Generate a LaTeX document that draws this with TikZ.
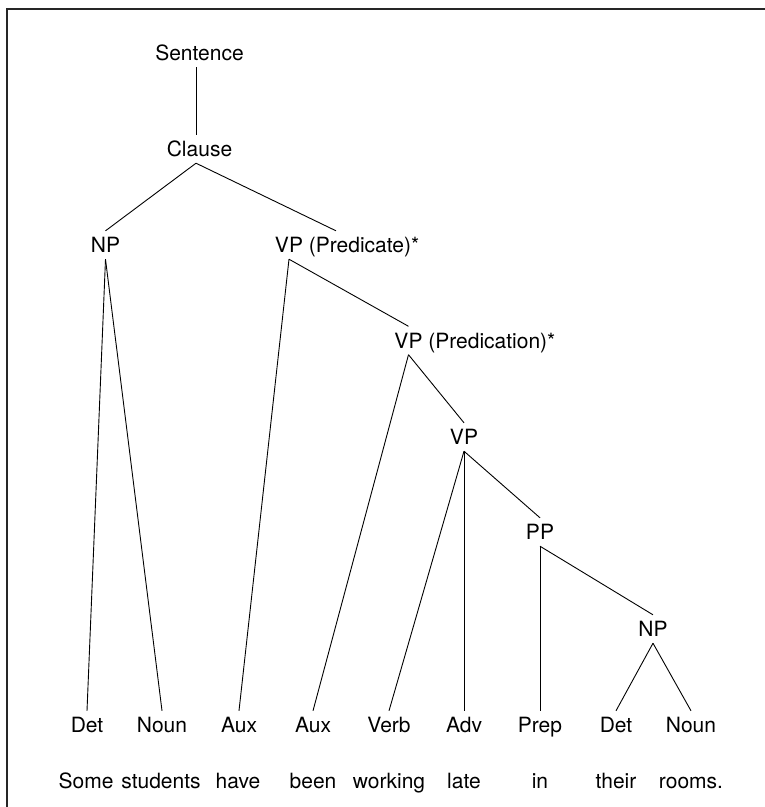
\documentclass[tikz,border=0pt]{standalone}
\usepackage{fontspec}
\setmainfont{TeX Gyre Heros}
\begin{document}
\begin{tikzpicture}[x=1pt,y=-1pt,
  lab/.style={font=\fontsize{21}{25}\selectfont, text height=15pt, text depth=0pt, inner xsep=0pt, inner ysep=6.5pt},
  edge/.style={line width=0.9pt, black},
  frame/.style={line width=1.6pt, black!85}]
\useasboundingbox (0,0) rectangle (765,807);
\coordinate (fbl) at (7,807);
\coordinate (ftl) at (7,9);
\coordinate (ftr) at (765,9);
\draw[frame] (fbl) -- (ftl) -- (ftr);

% internal nodes
\node[lab] (s)   at (199.5,53)  {Sentence};
\node[lab] (c)   at (199.5,149) {Clause};
\node[lab] (np1) at (105.5,245) {NP};
\node[lab] (vp1) at (289,245)   {VP\rlap{\ (Predicate)*}};
\node[lab] (vp2) at (408.5,340.5) {VP\rlap{\ (Predication)*}};
\node[lab] (vp3) at (464,437)   {VP};
\node[lab] (pp)  at (540,532)   {PP};
\node[lab] (np2) at (653,629)   {NP};

% leaves (categories)
\node[lab] (det1)  at (87,725)  {Det};
\node[lab] (noun1) at (162,725) {Noun};
\node[lab] (aux1)  at (239,725) {Aux};
\node[lab] (aux2)  at (313,725) {Aux};
\node[lab] (verb)  at (389,725) {Verb};
\node[lab] (adv)   at (464,725) {Adv};
\node[lab] (prep)  at (540,725) {Prep};
\node[lab] (det2)  at (616,725) {Det};
\node[lab] (noun2) at (691,725) {Noun};

% words
\node[lab] (w1) at (86,780.5)  {Some};
\node[lab] (w2) at (161,780.5) {students};
\node[lab] (w3) at (238,780.5) {have};
\node[lab] (w4) at (313,780.5) {been};
\node[lab] (w5) at (389,780.5) {working};
\node[lab] (w6) at (464,780.5) {late};
\node[lab] (w7) at (540,780.5) {in};
\node[lab] (w8) at (616,780.5) {their};
\node[lab] (w9) at (691,780.5) {rooms.};

% edges
\draw[edge] ([xshift=-3.5pt]s.south) -- ([xshift=-3.5pt]c.north);
\draw[edge] ([xshift=-3.5pt]c.south) -- (np1.north);
\draw[edge] ([xshift=-3.5pt]c.south) -- ([xshift=47pt]vp1.north);
\draw[edge] (np1.south) -- (det1.north);
\draw[edge] (np1.south) -- (noun1.north);
\draw[edge] (vp1.south) -- (aux1.north);
\draw[edge] (vp1.south) -- (vp2.north);
\draw[edge] (vp2.south) -- (aux2.north);
\draw[edge] (vp2.south) -- (vp3.north);
\draw[edge] (vp3.south) -- (verb.north);
\draw[edge] (vp3.south) -- (adv.north);
\draw[edge] (vp3.south) -- (pp.north);
\draw[edge] (pp.south) -- (prep.north);
\draw[edge] (pp.south) -- (np2.north);
\draw[edge] (np2.south) -- (det2.north);
\draw[edge] (np2.south) -- (noun2.north);
\end{tikzpicture}
\end{document}
